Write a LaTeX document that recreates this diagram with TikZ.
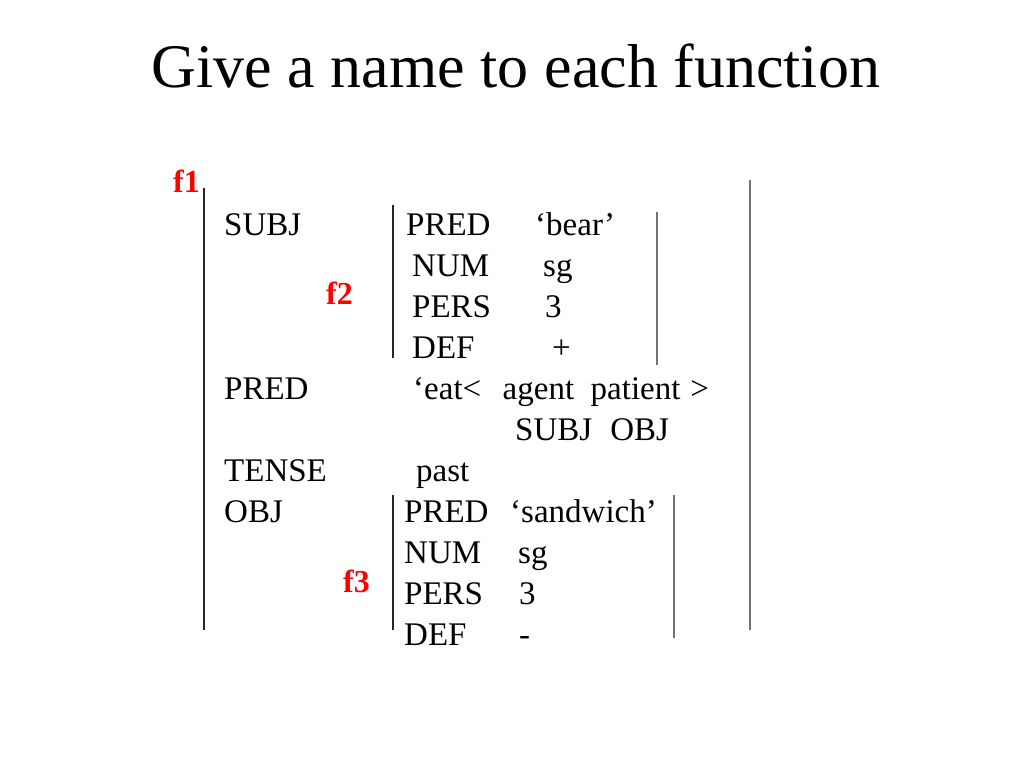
\documentclass[tikz,border=0pt]{standalone}
\usepackage{fontspec}
\setmainfont{Liberation Serif}
\usepackage{xcolor}

\begin{document}
\begin{tikzpicture}[x=1pt,y=-1pt]
			\tikzset{
				my attr/.style={
						anchor=base west,
						inner sep=0pt,
						font=\fontsize{33}{40}\selectfont,
					},
				my name/.style={
						my attr,
						text=red,
						font=\fontsize{32}{38}\selectfont\bfseries,
					},
				my bar/.style={line width=1.1pt, draw=black!85},
				my rbar/.style={line width=1.1pt, draw=black!55},
			}
			\useasboundingbox (0,0) rectangle (1024,768);
			\node[anchor=base, inner sep=0pt, font=\fontsize{62}{70}\selectfont] (title) at (516,87) {Give a name to each function};
			%
			\node[my name] (f1) at (173,192) {f1};
			\node[my name] (f2) at (326,304) {f2};
			\node[my name] (f3) at (343,592) {f3};
			% outer f-structure
			\node[my attr] (subj) at (224,235) {SUBJ};
			\node[my attr] (pred) at (224,399) {PRED};
			\node[my attr] (tense) at (224,481) {TENSE};
			\node[my attr] (obj) at (224,522) {OBJ};
			\node[my attr] (eat) at (413,399) {‘eat<\hspace{0.65em}agent\hspace{0.5em}patient\hspace{0.3em}>};
			\node[my attr] (args) at (515,440) {SUBJ\hspace{0.55em}OBJ};
			\node[my attr] (past) at (416,481) {past};
			% f2
			\node[my attr] (spred) at (406,235) {PRED};
			\node[my attr] (snum) at (412,276) {NUM};
			\node[my attr] (spers) at (412,317) {PERS};
			\node[my attr] (sdef) at (412,358) {DEF};
			\node[my attr] (bear) at (535,235) {‘bear’};
			\node[my attr] (ssg) at (543,276) {sg};
			\node[my attr] (s3) at (545,317) {3};
			\node[my attr] (splus) at (552,358) {+};
			% f3
			\node[my attr] (opred) at (404,522) {PRED};
			\node[my attr] (onum) at (404,563) {NUM};
			\node[my attr] (opers) at (404,604) {PERS};
			\node[my attr] (odef) at (404,645) {DEF};
			\node[my attr] (sandwich) at (510,522) {‘sandwich’};
			\node[my attr] (osg) at (518,563) {sg};
			\node[my attr] (o3) at (519,604) {3};
			\node[my attr] (ominus) at (519,645) {-};
			% brackets
			\coordinate (f1l1) at (204,188);
			\coordinate (f1l2) at (204,630);
			\coordinate (f1r1) at (750,180);
			\coordinate (f1r2) at (750,630);
			\coordinate (f2l1) at (393,205);
			\coordinate (f2l2) at (393,358);
			\coordinate (f2r1) at (657,212);
			\coordinate (f2r2) at (657,365);
			\coordinate (f3l1) at (393,495);
			\coordinate (f3l2) at (393,630);
			\coordinate (f3r1) at (674,495);
			\coordinate (f3r2) at (674,638);
			\draw[my bar] (f1l1) -- (f1l2);
			\draw[my rbar] (f1r1) -- (f1r2);
			\draw[my bar] (f2l1) -- (f2l2);
			\draw[my rbar] (f2r1) -- (f2r2);
			\draw[my bar] (f3l1) -- (f3l2);
			\draw[my rbar] (f3r1) -- (f3r2);
		\end{tikzpicture}
\end{document}
